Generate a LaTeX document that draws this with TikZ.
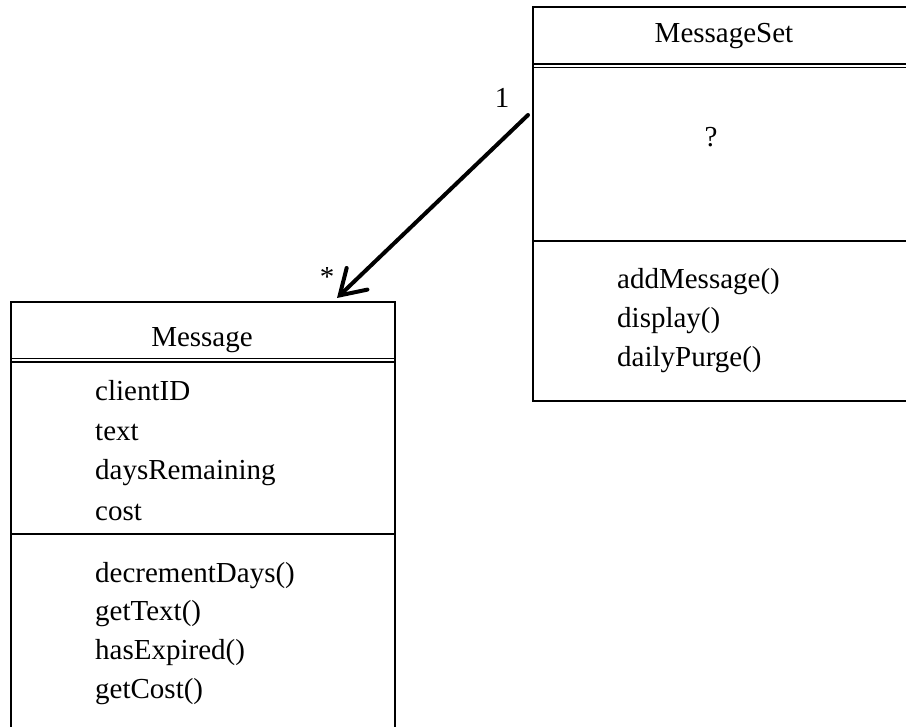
\documentclass[tikz,border=0pt]{standalone}
\usepackage{fontspec}
\setmainfont{Liberation Serif}
\usetikzlibrary{arrows.meta,calc}
\begin{document}
\begin{tikzpicture}[x=1pt,y=-1pt,
  classbox/.style={draw, line width=2pt, minimum width=384pt, anchor=north west, inner sep=0pt},
  sepline/.style={line width=2pt},
  dblline/.style={line width=1.6pt},
  member/.style={anchor=base west, inner sep=0pt, font=\fontsize{29}{35}\selectfont},
  title/.style={anchor=base, inner sep=0pt, font=\fontsize{29}{35}\selectfont},
  mult/.style={anchor=center, inner sep=0pt, font=\fontsize{29}{35}\selectfont},
  assoc/.style={line width=4pt, line cap=round, -{Straight Barb[length=24pt,width=30pt,line cap=round]}}
]
\useasboundingbox (0,0) rectangle (906,727);

% MessageSet class
\node[classbox, minimum height=394pt] (setbox) at (532,6) {};
\draw[dblline] (532,64) -- (916,64);
\draw[dblline] (532,67.5) -- (916,67.5);
\draw[sepline] (532,241) -- (916,241);
\node[title] (settitle) at (724,43) {MessageSet};
\node[title] (setq) at (711,147) {?};
\node[member] (m1) at (617,289) {addMessage()};
\node[member] (m2) at (617,328) {display()};
\node[member] (m3) at (617,367) {dailyPurge()};

% Message class
\node[classbox, minimum height=460pt] (msgbox) at (10,301) {};
\draw[dblline] (10,358.5) -- (394,358.5);
\draw[dblline] (10,362) -- (394,362);
\draw[sepline] (10,534) -- (394,534);
\node[title] (msgtitle) at (202,347) {Message};
\node[member] (a1) at (95,401) {clientID};
\node[member] (a2) at (95,441) {text};
\node[member] (a3) at (95,480) {daysRemaining};
\node[member] (a4) at (95,521) {cost};
\node[member] (o1) at (95,582) {decrementDays()};
\node[member] (o2) at (95,620) {getText()};
\node[member] (o3) at (95,659) {hasExpired()};
\node[member] (o4) at (95,698) {getCost()};

% association
\coordinate (assocstart) at ($(setbox.north west)+(-4,109)$);
\coordinate (assocend) at ($(msgbox.north west)+(327,-3)$);
\draw[assoc] (assocstart) -- (assocend);
\node[mult] (multone) at (502,98) {1};
\node[mult] (multmany) at (327,277) {*};
\end{tikzpicture}
\end{document}
